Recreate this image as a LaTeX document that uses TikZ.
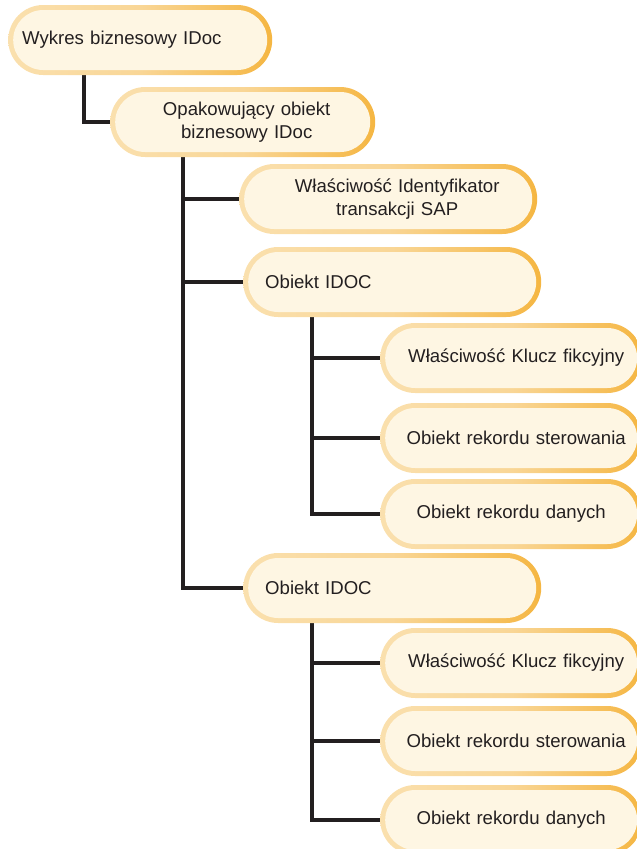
\documentclass[tikz,border=0pt]{standalone}
\usepackage{fontspec}
\setmainfont{Liberation Sans}
\usetikzlibrary{calc,backgrounds}
\definecolor{pillL}{RGB}{250,224,174}
\definecolor{pillM}{RGB}{249,214,150}
\definecolor{pillR}{RGB}{245,182,66}
\definecolor{pillfill}{RGB}{254,246,227}
\definecolor{ink}{RGB}{35,31,32}
\begin{document}
\begin{tikzpicture}[x=1pt,y=-1pt,
  pill/.style={rectangle, rounded corners=35pt, minimum height=70pt, inner ysep=0pt,
    left color=pillL, right color=pillR, middle color=pillM, draw=none,
    font=\fontsize{18.6}{23}\selectfont, text=ink, anchor=west,
    path picture={\fill[pillfill, rounded corners=30pt]
      ([shift={(5pt,5pt)}]path picture bounding box.south west) rectangle
      ([shift={(-5pt,-5pt)}]path picture bounding box.north east);}},
  wide/.style={inner xsep=10pt, text width=278pt, align=center},
  leaf/.style={inner xsep=10pt, text width=242pt, align=center},
  obj/.style={inner xsep=22pt, text width=254pt, align=left},
  conn/.style={draw=ink, line width=3.2pt}]

\useasboundingbox (0,0) rectangle (637,849);
\clip (0,0) rectangle (637,849);

% top level
\node[pill, inner xsep=14pt, text width=236pt, align=left] (b1) at (8,40) {Wykres biznesowy IDoc};
\node[pill, inner xsep=10pt, text width=245pt, align=center] (b2) at (110,122)
  {\hspace*{8pt}Opakowujący obiekt\\\hspace*{8pt}biznesowy IDoc};

% wrapper children
\node[pill, wide] (b3) at (239,199)
  {\hspace*{18pt}Właściwość Identyfikator\\\hspace*{18pt}transakcji SAP};
\node[pill, obj] (b4) at (243,282) {Obiekt IDOC};
\node[pill, leaf] (b5) at (380,358) {\hspace*{10pt}Właściwość Klucz fikcyjny};
\node[pill, leaf] (b6) at (380,438) {\hspace*{10pt}Obiekt rekordu sterowania};
\node[pill, leaf] (b7) at (380,514) {Obiekt rekordu danych};

\node[pill, obj] (b8) at (243,588) {Obiekt IDOC};
\node[pill, leaf] (b9) at (380,663) {\hspace*{10pt}Właściwość Klucz fikcyjny};
\node[pill, leaf] (b10) at (380,741) {\hspace*{10pt}Obiekt rekordu sterowania};
\node[pill, leaf] (b11) at (380,820) {Obiekt rekordu danych};

\begin{pgfonlayer}{background}
  % tree connectors
  \draw[conn] ($(b1.south west)+(76,0)$) |- (b2.west);

  \coordinate (s1) at ($(b2.south west)+(73,0)$);
  \draw[conn] (s1) |- (b8.west);
  \draw[conn] (b3.west) -- (b3.west -| s1);
  \draw[conn] (b4.west) -- (b4.west -| s1);

  \coordinate (s2) at ($(b4.south west)+(69,0)$);
  \draw[conn] (s2) |- (b7.west);
  \draw[conn] (b5.west) -- (b5.west -| s2);
  \draw[conn] (b6.west) -- (b6.west -| s2);

  \coordinate (s3) at ($(b8.south west)+(69,0)$);
  \draw[conn] (s3) |- (b11.west);
  \draw[conn] (b9.west) -- (b9.west -| s3);
  \draw[conn] (b10.west) -- (b10.west -| s3);
\end{pgfonlayer}
\end{tikzpicture}
\end{document}
